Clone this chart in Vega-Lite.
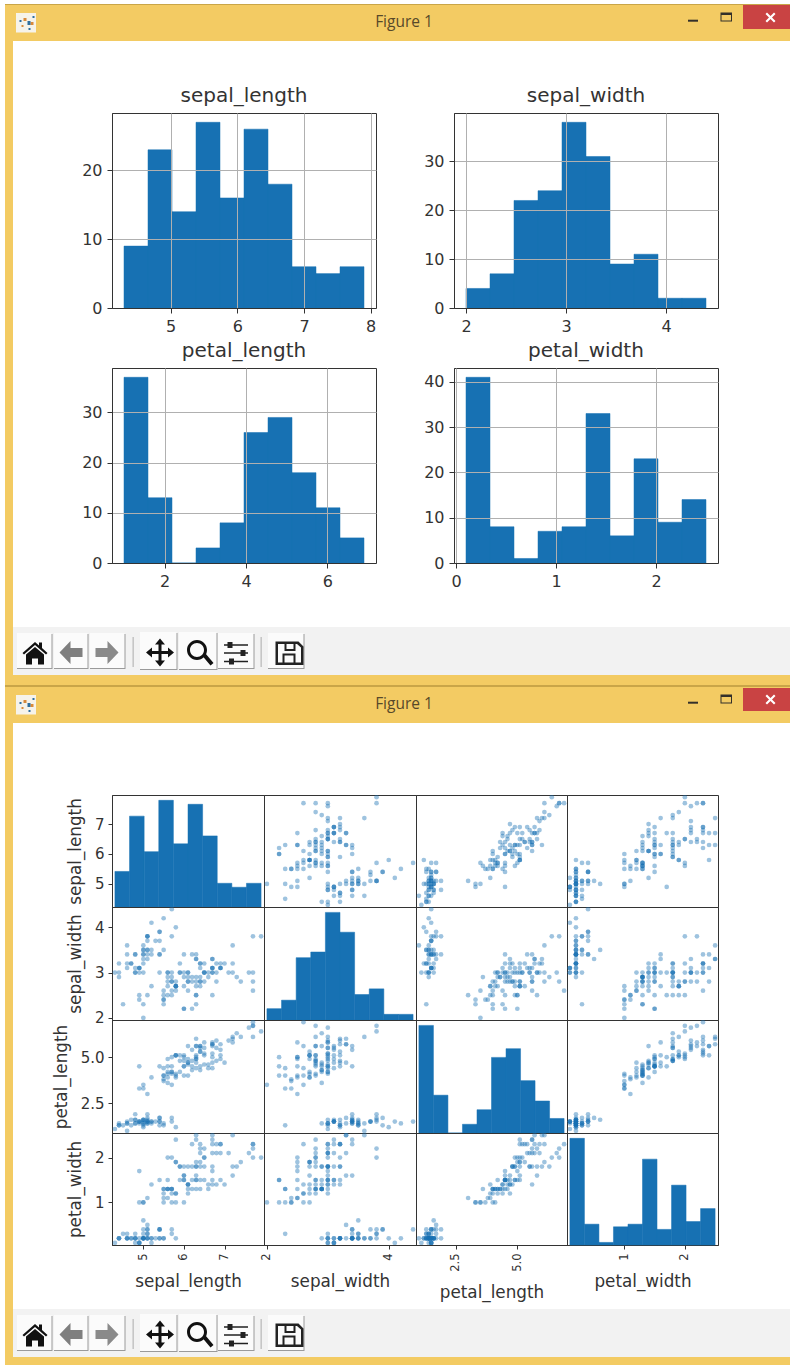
{"$schema":"https://vega.github.io/schema/vega-lite/v6.json","padding":{"left":5,"top":4,"right":0,"bottom":0},"autosize":{"type":"pad"},"background":"white","data":{"values":[]},"spacing":0,"bounds":"full","align":"none","resolve":{"scale":{"shape":"independent","color":"independent"}},"config":{"font":"DejaVu Sans","view":{"stroke":null},"axis":{"grid":false,"gridColor":"#b0b0b0","gridOpacity":1,"gridWidth":1,"domainColor":"#333333","tickColor":"#333333","labelColor":"#333333","titleColor":"#333333","labelFontSize":16,"tickSize":5,"labelPadding":5,"titleFontWeight":"normal"},"title":{"fontSize":20,"fontWeight":"normal","color":"#333333","offset":7},"bar":{"color":"#1771b3","stroke":"#1771b3","strokeWidth":0.5},"circle":{"size":22,"opacity":0.42,"color":"#1771b3"},"style":{"mx":{"labelAngle":270,"labelAlign":"right","labelBaseline":"middle","labelFontSize":11.5,"labelPadding":4,"titleFontSize":16.8,"tickSize":4,"titlePadding":13},"my":{"labelAngle":0,"labelFontSize":15,"labelPadding":4,"titleFontSize":16.8,"tickSize":4,"titlePadding":10}}},
"datasets":{
"chrome":[{"item":"icon"},{"item":"dotA"},{"item":"dotB"},{"item":"min"},{"item":"max"},{"item":"closeBg"},{"item":"closeX"}],
"tools":[{"item":"shade"},{"item":"face"},{"item":"home"},{"item":"back"},{"item":"forward"},{"item":"move"},{"item":"zoom"},{"item":"sliders"},{"item":"save"}],
"h_sl":[{"a":4.3,"b":4.66,"n":9},{"a":4.66,"b":5.02,"n":23},{"a":5.02,"b":5.38,"n":14},{"a":5.38,"b":5.74,"n":27},{"a":5.74,"b":6.1,"n":16},{"a":6.1,"b":6.46,"n":26},{"a":6.46,"b":6.82,"n":18},{"a":6.82,"b":7.18,"n":6},{"a":7.18,"b":7.54,"n":5},{"a":7.54,"b":7.9,"n":6}],
"h_sw":[{"a":2,"b":2.24,"n":4},{"a":2.24,"b":2.48,"n":7},{"a":2.48,"b":2.72,"n":22},{"a":2.72,"b":2.96,"n":24},{"a":2.96,"b":3.2,"n":38},{"a":3.2,"b":3.44,"n":31},{"a":3.44,"b":3.68,"n":9},{"a":3.68,"b":3.92,"n":11},{"a":3.92,"b":4.16,"n":2},{"a":4.16,"b":4.4,"n":2}],
"h_pl":[{"a":1,"b":1.59,"n":37},{"a":1.59,"b":2.18,"n":13},{"a":2.18,"b":2.77,"n":0},{"a":2.77,"b":3.36,"n":3},{"a":3.36,"b":3.95,"n":8},{"a":3.95,"b":4.54,"n":26},{"a":4.54,"b":5.13,"n":29},{"a":5.13,"b":5.72,"n":18},{"a":5.72,"b":6.31,"n":11},{"a":6.31,"b":6.9,"n":5}],
"h_pw":[{"a":0.1,"b":0.34,"n":41},{"a":0.34,"b":0.58,"n":8},{"a":0.58,"b":0.82,"n":1},{"a":0.82,"b":1.06,"n":7},{"a":1.06,"b":1.3,"n":8},{"a":1.3,"b":1.54,"n":33},{"a":1.54,"b":1.78,"n":6},{"a":1.78,"b":2.02,"n":23},{"a":2.02,"b":2.26,"n":9},{"a":2.26,"b":2.5,"n":14}],
"iris":[{"sl":5.1,"sw":3.5,"pl":1.4,"pw":0.2},{"sl":4.9,"sw":3.0,"pl":1.4,"pw":0.2},{"sl":4.7,"sw":3.2,"pl":1.3,"pw":0.2},{"sl":4.6,"sw":3.1,"pl":1.5,"pw":0.2},{"sl":5.0,"sw":3.6,"pl":1.4,"pw":0.2},{"sl":5.4,"sw":3.9,"pl":1.7,"pw":0.4},{"sl":4.6,"sw":3.4,"pl":1.4,"pw":0.3},{"sl":5.0,"sw":3.4,"pl":1.5,"pw":0.2},{"sl":4.4,"sw":2.9,"pl":1.4,"pw":0.2},{"sl":4.9,"sw":3.1,"pl":1.5,"pw":0.1},{"sl":5.4,"sw":3.7,"pl":1.5,"pw":0.2},{"sl":4.8,"sw":3.4,"pl":1.6,"pw":0.2},{"sl":4.8,"sw":3.0,"pl":1.4,"pw":0.1},{"sl":4.3,"sw":3.0,"pl":1.1,"pw":0.1},{"sl":5.8,"sw":4.0,"pl":1.2,"pw":0.2},{"sl":5.7,"sw":4.4,"pl":1.5,"pw":0.4},{"sl":5.4,"sw":3.9,"pl":1.3,"pw":0.4},{"sl":5.1,"sw":3.5,"pl":1.4,"pw":0.3},{"sl":5.7,"sw":3.8,"pl":1.7,"pw":0.3},{"sl":5.1,"sw":3.8,"pl":1.5,"pw":0.3},{"sl":5.4,"sw":3.4,"pl":1.7,"pw":0.2},{"sl":5.1,"sw":3.7,"pl":1.5,"pw":0.4},{"sl":4.6,"sw":3.6,"pl":1.0,"pw":0.2},{"sl":5.1,"sw":3.3,"pl":1.7,"pw":0.5},{"sl":4.8,"sw":3.4,"pl":1.9,"pw":0.2},{"sl":5.0,"sw":3.0,"pl":1.6,"pw":0.2},{"sl":5.0,"sw":3.4,"pl":1.6,"pw":0.4},{"sl":5.2,"sw":3.5,"pl":1.5,"pw":0.2},{"sl":5.2,"sw":3.4,"pl":1.4,"pw":0.2},{"sl":4.7,"sw":3.2,"pl":1.6,"pw":0.2},{"sl":4.8,"sw":3.1,"pl":1.6,"pw":0.2},{"sl":5.4,"sw":3.4,"pl":1.5,"pw":0.4},{"sl":5.2,"sw":4.1,"pl":1.5,"pw":0.1},{"sl":5.5,"sw":4.2,"pl":1.4,"pw":0.2},{"sl":4.9,"sw":3.1,"pl":1.5,"pw":0.1},{"sl":5.0,"sw":3.2,"pl":1.2,"pw":0.2},{"sl":5.5,"sw":3.5,"pl":1.3,"pw":0.2},{"sl":4.9,"sw":3.1,"pl":1.5,"pw":0.1},{"sl":4.4,"sw":3.0,"pl":1.3,"pw":0.2},{"sl":5.1,"sw":3.4,"pl":1.5,"pw":0.2},{"sl":5.0,"sw":3.5,"pl":1.3,"pw":0.3},{"sl":4.5,"sw":2.3,"pl":1.3,"pw":0.3},{"sl":4.4,"sw":3.2,"pl":1.3,"pw":0.2},{"sl":5.0,"sw":3.5,"pl":1.6,"pw":0.6},{"sl":5.1,"sw":3.8,"pl":1.9,"pw":0.4},{"sl":4.8,"sw":3.0,"pl":1.4,"pw":0.3},{"sl":5.1,"sw":3.8,"pl":1.6,"pw":0.2},{"sl":4.6,"sw":3.2,"pl":1.4,"pw":0.2},{"sl":5.3,"sw":3.7,"pl":1.5,"pw":0.2},{"sl":5.0,"sw":3.3,"pl":1.4,"pw":0.2},{"sl":7.0,"sw":3.2,"pl":4.7,"pw":1.4},{"sl":6.4,"sw":3.2,"pl":4.5,"pw":1.5},{"sl":6.9,"sw":3.1,"pl":4.9,"pw":1.5},{"sl":5.5,"sw":2.3,"pl":4.0,"pw":1.3},{"sl":6.5,"sw":2.8,"pl":4.6,"pw":1.5},{"sl":5.7,"sw":2.8,"pl":4.5,"pw":1.3},{"sl":6.3,"sw":3.3,"pl":4.7,"pw":1.6},{"sl":4.9,"sw":2.4,"pl":3.3,"pw":1.0},{"sl":6.6,"sw":2.9,"pl":4.6,"pw":1.3},{"sl":5.2,"sw":2.7,"pl":3.9,"pw":1.4},{"sl":5.0,"sw":2.0,"pl":3.5,"pw":1.0},{"sl":5.9,"sw":3.0,"pl":4.2,"pw":1.5},{"sl":6.0,"sw":2.2,"pl":4.0,"pw":1.0},{"sl":6.1,"sw":2.9,"pl":4.7,"pw":1.4},{"sl":5.6,"sw":2.9,"pl":3.6,"pw":1.3},{"sl":6.7,"sw":3.1,"pl":4.4,"pw":1.4},{"sl":5.6,"sw":3.0,"pl":4.5,"pw":1.5},{"sl":5.8,"sw":2.7,"pl":4.1,"pw":1.0},{"sl":6.2,"sw":2.2,"pl":4.5,"pw":1.5},{"sl":5.6,"sw":2.5,"pl":3.9,"pw":1.1},{"sl":5.9,"sw":3.2,"pl":4.8,"pw":1.8},{"sl":6.1,"sw":2.8,"pl":4.0,"pw":1.3},{"sl":6.3,"sw":2.5,"pl":4.9,"pw":1.5},{"sl":6.1,"sw":2.8,"pl":4.7,"pw":1.2},{"sl":6.4,"sw":2.9,"pl":4.3,"pw":1.3},{"sl":6.6,"sw":3.0,"pl":4.4,"pw":1.4},{"sl":6.8,"sw":2.8,"pl":4.8,"pw":1.4},{"sl":6.7,"sw":3.0,"pl":5.0,"pw":1.7},{"sl":6.0,"sw":2.9,"pl":4.5,"pw":1.5},{"sl":5.7,"sw":2.6,"pl":3.5,"pw":1.0},{"sl":5.5,"sw":2.4,"pl":3.8,"pw":1.1},{"sl":5.5,"sw":2.4,"pl":3.7,"pw":1.0},{"sl":5.8,"sw":2.7,"pl":3.9,"pw":1.2},{"sl":6.0,"sw":2.7,"pl":5.1,"pw":1.6},{"sl":5.4,"sw":3.0,"pl":4.5,"pw":1.5},{"sl":6.0,"sw":3.4,"pl":4.5,"pw":1.6},{"sl":6.7,"sw":3.1,"pl":4.7,"pw":1.5},{"sl":6.3,"sw":2.3,"pl":4.4,"pw":1.3},{"sl":5.6,"sw":3.0,"pl":4.1,"pw":1.3},{"sl":5.5,"sw":2.5,"pl":4.0,"pw":1.3},{"sl":5.5,"sw":2.6,"pl":4.4,"pw":1.2},{"sl":6.1,"sw":3.0,"pl":4.6,"pw":1.4},{"sl":5.8,"sw":2.6,"pl":4.0,"pw":1.2},{"sl":5.0,"sw":2.3,"pl":3.3,"pw":1.0},{"sl":5.6,"sw":2.7,"pl":4.2,"pw":1.3},{"sl":5.7,"sw":3.0,"pl":4.2,"pw":1.2},{"sl":5.7,"sw":2.9,"pl":4.2,"pw":1.3},{"sl":6.2,"sw":2.9,"pl":4.3,"pw":1.3},{"sl":5.1,"sw":2.5,"pl":3.0,"pw":1.1},{"sl":5.7,"sw":2.8,"pl":4.1,"pw":1.3},{"sl":6.3,"sw":3.3,"pl":6.0,"pw":2.5},{"sl":5.8,"sw":2.7,"pl":5.1,"pw":1.9},{"sl":7.1,"sw":3.0,"pl":5.9,"pw":2.1},{"sl":6.3,"sw":2.9,"pl":5.6,"pw":1.8},{"sl":6.5,"sw":3.0,"pl":5.8,"pw":2.2},{"sl":7.6,"sw":3.0,"pl":6.6,"pw":2.1},{"sl":4.9,"sw":2.5,"pl":4.5,"pw":1.7},{"sl":7.3,"sw":2.9,"pl":6.3,"pw":1.8},{"sl":6.7,"sw":2.5,"pl":5.8,"pw":1.8},{"sl":7.2,"sw":3.6,"pl":6.1,"pw":2.5},{"sl":6.5,"sw":3.2,"pl":5.1,"pw":2.0},{"sl":6.4,"sw":2.7,"pl":5.3,"pw":1.9},{"sl":6.8,"sw":3.0,"pl":5.5,"pw":2.1},{"sl":5.7,"sw":2.5,"pl":5.0,"pw":2.0},{"sl":5.8,"sw":2.8,"pl":5.1,"pw":2.4},{"sl":6.4,"sw":3.2,"pl":5.3,"pw":2.3},{"sl":6.5,"sw":3.0,"pl":5.5,"pw":1.8},{"sl":7.7,"sw":3.8,"pl":6.7,"pw":2.2},{"sl":7.7,"sw":2.6,"pl":6.9,"pw":2.3},{"sl":6.0,"sw":2.2,"pl":5.0,"pw":1.5},{"sl":6.9,"sw":3.2,"pl":5.7,"pw":2.3},{"sl":5.6,"sw":2.8,"pl":4.9,"pw":2.0},{"sl":7.7,"sw":2.8,"pl":6.7,"pw":2.0},{"sl":6.3,"sw":2.7,"pl":4.9,"pw":1.8},{"sl":6.7,"sw":3.3,"pl":5.7,"pw":2.1},{"sl":7.2,"sw":3.2,"pl":6.0,"pw":1.8},{"sl":6.2,"sw":2.8,"pl":4.8,"pw":1.8},{"sl":6.1,"sw":3.0,"pl":4.9,"pw":1.8},{"sl":6.4,"sw":2.8,"pl":5.6,"pw":2.1},{"sl":7.2,"sw":3.0,"pl":5.8,"pw":1.6},{"sl":7.4,"sw":2.8,"pl":6.1,"pw":1.9},{"sl":7.9,"sw":3.8,"pl":6.4,"pw":2.0},{"sl":6.4,"sw":2.8,"pl":5.6,"pw":2.2},{"sl":6.3,"sw":2.8,"pl":5.1,"pw":1.5},{"sl":6.1,"sw":2.6,"pl":5.6,"pw":1.4},{"sl":7.7,"sw":3.0,"pl":6.1,"pw":2.3},{"sl":6.3,"sw":3.4,"pl":5.6,"pw":2.4},{"sl":6.4,"sw":3.1,"pl":5.5,"pw":1.8},{"sl":6.0,"sw":3.0,"pl":4.8,"pw":1.8},{"sl":6.9,"sw":3.1,"pl":5.4,"pw":2.1},{"sl":6.7,"sw":3.1,"pl":5.6,"pw":2.4},{"sl":6.9,"sw":3.1,"pl":5.1,"pw":2.3},{"sl":5.8,"sw":2.7,"pl":5.1,"pw":1.9},{"sl":6.8,"sw":3.2,"pl":5.9,"pw":2.3},{"sl":6.7,"sw":3.3,"pl":5.7,"pw":2.5},{"sl":6.7,"sw":3.0,"pl":5.2,"pw":2.3},{"sl":6.3,"sw":2.5,"pl":5.0,"pw":1.9},{"sl":6.5,"sw":3.0,"pl":5.2,"pw":2.0},{"sl":6.2,"sw":3.4,"pl":5.4,"pw":2.3},{"sl":5.9,"sw":3.0,"pl":5.1,"pw":1.8}]},
"vconcat":[
{"width":785,"height":1,"mark":"point","view":{"fill":"#c9a548"}},
{"width":785,"height":36,"view":{"fill":"#f3cb63"},"layer":[{"data":{"name":"chrome"},"mark":{"type":"point","filled":true,"opacity":1,"size":4,"strokeWidth":0},"encoding":{"shape":{"field":"item","type":"nominal","legend":null,"scale":{"domain":["icon","dotA","dotB","min","max","closeBg","closeX"],"range":["M-381.5,-10H-361.5V9.5H-381.5Z","M-374,-5h3v3h-3z M-367,-1h3v3h-3z M-376,2h2v2h-2z","M-370,-2h3v4h-3z M-365,-7h2v2h-2z M-378,-3h2v2h-2z M-369,5h2v2h-2z","M290.5,-3.3H300.5V-1.3H290.5Z","M323,-10.5H334.5V-1.5H323Z M324,-8V-2.5H333.5V-8Z","M345.5,-18H392.5V6H345.5Z","M368,-9l1.5,-1.5l3.5,3.5l3.5,-3.5l1.5,1.5l-3.5,3.5l3.5,3.5l-1.5,1.5l-3.5,-3.5l-3.5,3.5l-1.5,-1.5l3.5,-3.5z"]}},"color":{"field":"item","type":"nominal","legend":null,"scale":{"domain":["icon","dotA","dotB","min","max","closeBg","closeX"],"range":["#f6f3ea","#d98a3a","#2f6f9f","#33302a","#33302a","#c94343","#ffffff"]}}}},{"data":{"values":[{"label":"Figure 1"}]},"mark":{"type":"text","font":"Open Sans","fontSize":15.5,"color":"#57492a","dx":6.5,"dy":-1},"encoding":{"text":{"field":"label"}}}]},
{"columns":5,"spacing":0,"bounds":"flush","align":"each","concat":[
{"width":8,"height":72,"mark":"point","view":{"fill":"#f3cb63"}},{"width":99,"height":1,"mark":"point"},{"width":264,"height":1,"mark":"point"},{"width":78,"height":1,"mark":"point"},{"width":264,"height":1,"mark":"point"},
{"width":8,"height":195,"mark":"point","view":{"fill":"#f3cb63"}},{"width":99,"height":1,"mark":"point"},
{"width":264,"height":195,"view":{"stroke":"#333333"},"title":"sepal_length","data":{"name":"h_sl"},"mark":"bar","encoding":{"x":{"field":"a","type":"quantitative","scale":{"domain":[4.12,8.08]},"axis":{"zindex":1,"grid":true,"title":null,"values":[5,6,7,8],"format":"d"}},"x2":{"field":"b"},"y":{"field":"n","type":"quantitative","scale":{"domain":[0,28.35]},"axis":{"zindex":1,"grid":true,"title":null,"values":[0,10,20]}},"y2":{"datum":0}}},
{"width":78,"height":1,"mark":"point"},
{"width":264,"height":195,"view":{"stroke":"#333333"},"title":"sepal_width","data":{"name":"h_sw"},"mark":"bar","encoding":{"x":{"field":"a","type":"quantitative","scale":{"domain":[1.88,4.52]},"axis":{"zindex":1,"grid":true,"title":null,"values":[2,3,4],"format":"d"}},"x2":{"field":"b"},"y":{"field":"n","type":"quantitative","scale":{"domain":[0,39.9]},"axis":{"zindex":1,"grid":true,"title":null,"values":[0,10,20,30]}},"y2":{"datum":0}}},
{"width":8,"height":60,"mark":"point","view":{"fill":"#f3cb63"}},{"width":1,"height":1,"mark":"point"},{"width":1,"height":1,"mark":"point"},{"width":1,"height":1,"mark":"point"},{"width":1,"height":1,"mark":"point"},
{"width":8,"height":195,"mark":"point","view":{"fill":"#f3cb63"}},{"width":99,"height":1,"mark":"point"},
{"width":264,"height":195,"view":{"stroke":"#333333"},"title":"petal_length","data":{"name":"h_pl"},"mark":"bar","encoding":{"x":{"field":"a","type":"quantitative","scale":{"domain":[0.705,7.195]},"axis":{"zindex":1,"grid":true,"title":null,"values":[2,4,6],"format":"d"}},"x2":{"field":"b"},"y":{"field":"n","type":"quantitative","scale":{"domain":[0,38.85]},"axis":{"zindex":1,"grid":true,"title":null,"values":[0,10,20,30]}},"y2":{"datum":0}}},
{"width":78,"height":1,"mark":"point"},
{"width":264,"height":195,"view":{"stroke":"#333333"},"title":"petal_width","data":{"name":"h_pw"},"mark":"bar","encoding":{"x":{"field":"a","type":"quantitative","scale":{"domain":[-0.02,2.62]},"axis":{"zindex":1,"grid":true,"title":null,"values":[0,1,2],"format":"d"}},"x2":{"field":"b"},"y":{"field":"n","type":"quantitative","scale":{"domain":[0,43.05]},"axis":{"zindex":1,"grid":true,"title":null,"values":[0,10,20,30,40]}},"y2":{"datum":0}}},
{"width":8,"height":64,"mark":"point","view":{"fill":"#f3cb63"}},{"width":1,"height":1,"mark":"point"},{"width":1,"height":1,"mark":"point"},{"width":1,"height":1,"mark":"point"},{"width":1,"height":1,"mark":"point"}
]},
{"hconcat":[{"width":8,"height":48,"mark":"point","view":{"fill":"#f3cb63"}},
{"width":777,"height":48,"view":{"fill":"#f2f2f2"},"data":{"name":"tools"},"mark":{"type":"point","filled":true,"opacity":1,"size":4,"strokeWidth":0},"encoding":{"shape":{"field":"item","type":"nominal","legend":null,"scale":{"domain":["shade","face","home","back","forward","move","zoom","sliders","save"],"range":["M-384.5,-17H-349V18H-384.5Z M-347.5,-17H-313V18H-347.5Z M-311.5,-17H-276V18H-311.5Z M-261.5,-18H-224V19H-261.5Z M-222.5,-18H-184V19H-222.5Z M-183.5,-17H-147V18H-183.5Z M-133.5,-17H-97V18H-133.5Z M-268.8,-14H-268V16H-268.8Z M-140.8,-14H-140V16H-140.8Z","M-384.5,-18H-350V17H-384.5Z M-347.5,-18H-314V17H-347.5Z M-311.5,-18H-277V17H-311.5Z M-261.5,-19H-225V18H-261.5Z M-222.5,-19H-185V18H-222.5Z M-183.5,-18H-148V17H-183.5Z M-133.5,-18H-98V17H-133.5Z","M-379,2l12.5,-11l4,3.5v-3h3v5.5l5.5,5l-1.5,1.5l-11,-9.5l-11,9.5z M-375.5,3.5l9,-7.5l9,7.5v10h-6v-6h-6v6h-6z","M-342,1.5l11,-11.5v7h12v9h-12v7z","M-283,1.5l-11,-11.5v7h-12v9h12v7z","M-241.5,-12.5l5,6h-3.5v6.5h6.5v-3.5l6,5l-6,5v-3.5h-6.5v6.5h3.5l-5,6l-5,-6h3.5v-6.5h-6.5v3.5l-6,-5l6,-5v3.5h6.5v-6.5h-3.5z","M-214.5,-1a10,10 0 1 1 20,0a10,10 0 1 1 -20,0z M-211.5,-1a7,7 0 1 0 14,0a7,7 0 1 0 -14,0z M-199,5l3,-2.5l8,9.5l-3,2.5z","M-177.5,-6.8H-153.5V-5.2H-177.5Z M-177.5,1.2H-153.5V2.8H-177.5Z M-177.5,9.7H-153.5V11.3H-177.5Z M-174,-9h5v6h-5z M-161,-1h5v6h-5z M-172.5,7.5h5v6h-5z","M-126,-9.5H-103l5,5V14H-126z M-123.5,-7V11.5H-100.5V-3.5l-4,-3.5z M-117,-7v7h11v-7h-2v5h-7v-5z M-119,11.5v-9h13v9h-2v-7h-9v7z"]}},"color":{"field":"item","type":"nominal","legend":null,"scale":{"domain":["shade","face","home","back","forward","move","zoom","sliders","save"],"range":["#9a9a9a","#fbfbfb","#111111","#7f7f7f","#8a8a8a","#111111","#111111","#222222","#222222"]}}}}],"spacing":0,"bounds":"flush"},
{"width":785,"height":10,"mark":"point","view":{"fill":"#f3cb63"}},
{"width":785,"height":2,"mark":"point","view":{"fill":"#c9a548"}},
{"width":785,"height":36,"view":{"fill":"#f3cb63"},"layer":[{"data":{"name":"chrome"},"mark":{"type":"point","filled":true,"opacity":1,"size":4,"strokeWidth":0},"encoding":{"shape":{"field":"item","type":"nominal","legend":null,"scale":{"domain":["icon","dotA","dotB","min","max","closeBg","closeX"],"range":["M-381.5,-10H-361.5V9.5H-381.5Z","M-374,-5h3v3h-3z M-367,-1h3v3h-3z M-376,2h2v2h-2z","M-370,-2h3v4h-3z M-365,-7h2v2h-2z M-378,-3h2v2h-2z M-369,5h2v2h-2z","M290.5,-3.3H300.5V-1.3H290.5Z","M323,-10.5H334.5V-1.5H323Z M324,-8V-2.5H333.5V-8Z","M345.5,-17H392.5V6H345.5Z","M368,-9l1.5,-1.5l3.5,3.5l3.5,-3.5l1.5,1.5l-3.5,3.5l3.5,3.5l-1.5,1.5l-3.5,-3.5l-3.5,3.5l-1.5,-1.5l3.5,-3.5z"]}},"color":{"field":"item","type":"nominal","legend":null,"scale":{"domain":["icon","dotA","dotB","min","max","closeBg","closeX"],"range":["#f6f3ea","#d98a3a","#2f6f9f","#33302a","#33302a","#c94343","#ffffff"]}}}},{"data":{"values":[{"label":"Figure 1"}]},"mark":{"type":"text","font":"Open Sans","fontSize":15.5,"color":"#57492a","dx":6.5,"dy":-1},"encoding":{"text":{"field":"label"}}}]},
{"columns":6,"spacing":0,"bounds":"flush","align":"each","concat":[
{"width":8,"height":72,"mark":"point","view":{"fill":"#f3cb63"}},{"width":99,"height":1,"mark":"point"},{"width":152,"height":1,"mark":"point"},{"width":152,"height":1,"mark":"point"},{"width":151,"height":1,"mark":"point"},{"width":151,"height":1,"mark":"point"},
{"width":8,"height":112,"mark":"point","view":{"fill":"#f3cb63"}},{"width":99,"height":1,"mark":"point"},
{"width":152,"height":112,"view":{"stroke":"#333333"},"layer":[{"data":{"name":"h_sl"},"mark":"bar","encoding":{"x":{"field":"a","type":"quantitative","scale":{"domain":[4.228,7.972]},"axis":null},"x2":{"field":"b"},"y":{"field":"n","type":"quantitative","scale":{"domain":[0,28.35]},"axis":null},"y2":{"datum":0}}},{"data":{"name":"iris"},"mark":{"type":"circle","opacity":0},"encoding":{"x":{"field":"sl","type":"quantitative","scale":{"domain":[4.228,7.972]},"axis":null},"y":{"field":"sl","type":"quantitative","scale":{"domain":[4.228,7.972]},"axis":{"orient":"left","style":"my","title":"sepal_length","values":[5,6,7],"format":"d"}}}}],"resolve":{"scale":{"y":"independent"},"axis":{"y":"independent"}}},
{"width":152,"height":112,"view":{"stroke":"#333333"},"data":{"name":"iris"},"mark":{"type":"circle","clip":true},"encoding":{"x":{"field":"sw","type":"quantitative","scale":{"domain":[1.952,4.448]},"axis":null},"y":{"field":"sl","type":"quantitative","scale":{"domain":[4.228,7.972]},"axis":null}}},
{"width":151,"height":112,"view":{"stroke":"#333333"},"data":{"name":"iris"},"mark":{"type":"circle","clip":true},"encoding":{"x":{"field":"pl","type":"quantitative","scale":{"domain":[0.882,7.018]},"axis":null},"y":{"field":"sl","type":"quantitative","scale":{"domain":[4.228,7.972]},"axis":null}}},
{"width":151,"height":112,"view":{"stroke":"#333333"},"data":{"name":"iris"},"mark":{"type":"circle","clip":true},"encoding":{"x":{"field":"pw","type":"quantitative","scale":{"domain":[0.052,2.548]},"axis":null},"y":{"field":"sl","type":"quantitative","scale":{"domain":[4.228,7.972]},"axis":null}}},
{"width":8,"height":113,"mark":"point","view":{"fill":"#f3cb63"}},{"width":99,"height":1,"mark":"point"},
{"width":152,"height":113,"view":{"stroke":"#333333"},"data":{"name":"iris"},"mark":{"type":"circle","clip":true},"encoding":{"x":{"field":"sl","type":"quantitative","scale":{"domain":[4.228,7.972]},"axis":null},"y":{"field":"sw","type":"quantitative","scale":{"domain":[1.952,4.448]},"axis":{"style":"my","title":"sepal_width","values":[2,3,4],"format":"d"}}}},
{"width":152,"height":113,"view":{"stroke":"#333333"},"data":{"name":"h_sw"},"mark":"bar","encoding":{"x":{"field":"a","type":"quantitative","scale":{"domain":[1.952,4.448]},"axis":null},"x2":{"field":"b"},"y":{"field":"n","type":"quantitative","scale":{"domain":[0,39.9]},"axis":null},"y2":{"datum":0}}},
{"width":151,"height":113,"view":{"stroke":"#333333"},"data":{"name":"iris"},"mark":{"type":"circle","clip":true},"encoding":{"x":{"field":"pl","type":"quantitative","scale":{"domain":[0.882,7.018]},"axis":null},"y":{"field":"sw","type":"quantitative","scale":{"domain":[1.952,4.448]},"axis":null}}},
{"width":151,"height":113,"view":{"stroke":"#333333"},"data":{"name":"iris"},"mark":{"type":"circle","clip":true},"encoding":{"x":{"field":"pw","type":"quantitative","scale":{"domain":[0.052,2.548]},"axis":null},"y":{"field":"sw","type":"quantitative","scale":{"domain":[1.952,4.448]},"axis":null}}},
{"width":8,"height":113,"mark":"point","view":{"fill":"#f3cb63"}},{"width":99,"height":1,"mark":"point"},
{"width":152,"height":113,"view":{"stroke":"#333333"},"data":{"name":"iris"},"mark":{"type":"circle","clip":true},"encoding":{"x":{"field":"sl","type":"quantitative","scale":{"domain":[4.228,7.972]},"axis":null},"y":{"field":"pl","type":"quantitative","scale":{"domain":[0.882,7.018]},"axis":{"style":"my","title":"petal_length","values":[2.5,5],"format":".1f"}}}},
{"width":152,"height":113,"view":{"stroke":"#333333"},"data":{"name":"iris"},"mark":{"type":"circle","clip":true},"encoding":{"x":{"field":"sw","type":"quantitative","scale":{"domain":[1.952,4.448]},"axis":null},"y":{"field":"pl","type":"quantitative","scale":{"domain":[0.882,7.018]},"axis":null}}},
{"width":151,"height":113,"view":{"stroke":"#333333"},"data":{"name":"h_pl"},"mark":"bar","encoding":{"x":{"field":"a","type":"quantitative","scale":{"domain":[0.882,7.018]},"axis":null},"x2":{"field":"b"},"y":{"field":"n","type":"quantitative","scale":{"domain":[0,38.85]},"axis":null},"y2":{"datum":0}}},
{"width":151,"height":113,"view":{"stroke":"#333333"},"data":{"name":"iris"},"mark":{"type":"circle","clip":true},"encoding":{"x":{"field":"pw","type":"quantitative","scale":{"domain":[0.052,2.548]},"axis":null},"y":{"field":"pl","type":"quantitative","scale":{"domain":[0.882,7.018]},"axis":null}}},
{"width":8,"height":112,"mark":"point","view":{"fill":"#f3cb63"}},{"width":99,"height":1,"mark":"point"},
{"width":152,"height":112,"view":{"stroke":"#333333"},"data":{"name":"iris"},"mark":{"type":"circle","clip":true},"encoding":{"x":{"field":"sl","type":"quantitative","scale":{"domain":[4.228,7.972]},"axis":{"style":"mx","title":"sepal_length","values":[5,6,7],"format":"d"}},"y":{"field":"pw","type":"quantitative","scale":{"domain":[0.052,2.548]},"axis":{"style":"my","title":"petal_width","values":[1,2],"format":"d"}}}},
{"width":152,"height":112,"view":{"stroke":"#333333"},"data":{"name":"iris"},"mark":{"type":"circle","clip":true},"encoding":{"x":{"field":"sw","type":"quantitative","scale":{"domain":[1.952,4.448]},"axis":{"style":"mx","title":"sepal_width","values":[2,4],"format":"d"}},"y":{"field":"pw","type":"quantitative","scale":{"domain":[0.052,2.548]},"axis":null}}},
{"width":151,"height":112,"view":{"stroke":"#333333"},"data":{"name":"iris"},"mark":{"type":"circle","clip":true},"encoding":{"x":{"field":"pl","type":"quantitative","scale":{"domain":[0.882,7.018]},"axis":{"style":"mx","title":"petal_length","values":[2.5,5],"format":".1f"}},"y":{"field":"pw","type":"quantitative","scale":{"domain":[0.052,2.548]},"axis":null}}},
{"width":151,"height":112,"view":{"stroke":"#333333"},"data":{"name":"h_pw"},"mark":"bar","encoding":{"x":{"field":"a","type":"quantitative","scale":{"domain":[0.052,2.548]},"axis":{"style":"mx","title":"petal_width","values":[1,2],"format":"d"}},"x2":{"field":"b"},"y":{"field":"n","type":"quantitative","scale":{"domain":[0,43.05]},"axis":null},"y2":{"datum":0}}},
{"width":8,"height":64,"mark":"point","view":{"fill":"#f3cb63"}},{"width":1,"height":1,"mark":"point"},{"width":1,"height":1,"mark":"point"},{"width":1,"height":1,"mark":"point"},{"width":1,"height":1,"mark":"point"},{"width":1,"height":1,"mark":"point"}
]},
{"hconcat":[{"width":8,"height":48,"mark":"point","view":{"fill":"#f3cb63"}},
{"width":777,"height":48,"view":{"fill":"#f2f2f2"},"data":{"name":"tools"},"mark":{"type":"point","filled":true,"opacity":1,"size":4,"strokeWidth":0},"encoding":{"shape":{"field":"item","type":"nominal","legend":null,"scale":{"domain":["shade","face","home","back","forward","move","zoom","sliders","save"],"range":["M-384.5,-17H-349V18H-384.5Z M-347.5,-17H-313V18H-347.5Z M-311.5,-17H-276V18H-311.5Z M-261.5,-18H-224V19H-261.5Z M-222.5,-18H-184V19H-222.5Z M-183.5,-17H-147V18H-183.5Z M-133.5,-17H-97V18H-133.5Z M-268.8,-14H-268V16H-268.8Z M-140.8,-14H-140V16H-140.8Z","M-384.5,-18H-350V17H-384.5Z M-347.5,-18H-314V17H-347.5Z M-311.5,-18H-277V17H-311.5Z M-261.5,-19H-225V18H-261.5Z M-222.5,-19H-185V18H-222.5Z M-183.5,-18H-148V17H-183.5Z M-133.5,-18H-98V17H-133.5Z","M-379,2l12.5,-11l4,3.5v-3h3v5.5l5.5,5l-1.5,1.5l-11,-9.5l-11,9.5z M-375.5,3.5l9,-7.5l9,7.5v10h-6v-6h-6v6h-6z","M-342,1.5l11,-11.5v7h12v9h-12v7z","M-283,1.5l-11,-11.5v7h-12v9h12v7z","M-241.5,-12.5l5,6h-3.5v6.5h6.5v-3.5l6,5l-6,5v-3.5h-6.5v6.5h3.5l-5,6l-5,-6h3.5v-6.5h-6.5v3.5l-6,-5l6,-5v3.5h6.5v-6.5h-3.5z","M-214.5,-1a10,10 0 1 1 20,0a10,10 0 1 1 -20,0z M-211.5,-1a7,7 0 1 0 14,0a7,7 0 1 0 -14,0z M-199,5l3,-2.5l8,9.5l-3,2.5z","M-177.5,-6.8H-153.5V-5.2H-177.5Z M-177.5,1.2H-153.5V2.8H-177.5Z M-177.5,9.7H-153.5V11.3H-177.5Z M-174,-9h5v6h-5z M-161,-1h5v6h-5z M-172.5,7.5h5v6h-5z","M-126,-9.5H-103l5,5V14H-126z M-123.5,-7V11.5H-100.5V-3.5l-4,-3.5z M-117,-7v7h11v-7h-2v5h-7v-5z M-119,11.5v-9h13v9h-2v-7h-9v7z"]}},"color":{"field":"item","type":"nominal","legend":null,"scale":{"domain":["shade","face","home","back","forward","move","zoom","sliders","save"],"range":["#9a9a9a","#fbfbfb","#111111","#7f7f7f","#8a8a8a","#111111","#111111","#222222","#222222"]}}}}],"spacing":0,"bounds":"flush"},
{"width":785,"height":8,"mark":"point","view":{"fill":"#f3cb63"}}
]}
